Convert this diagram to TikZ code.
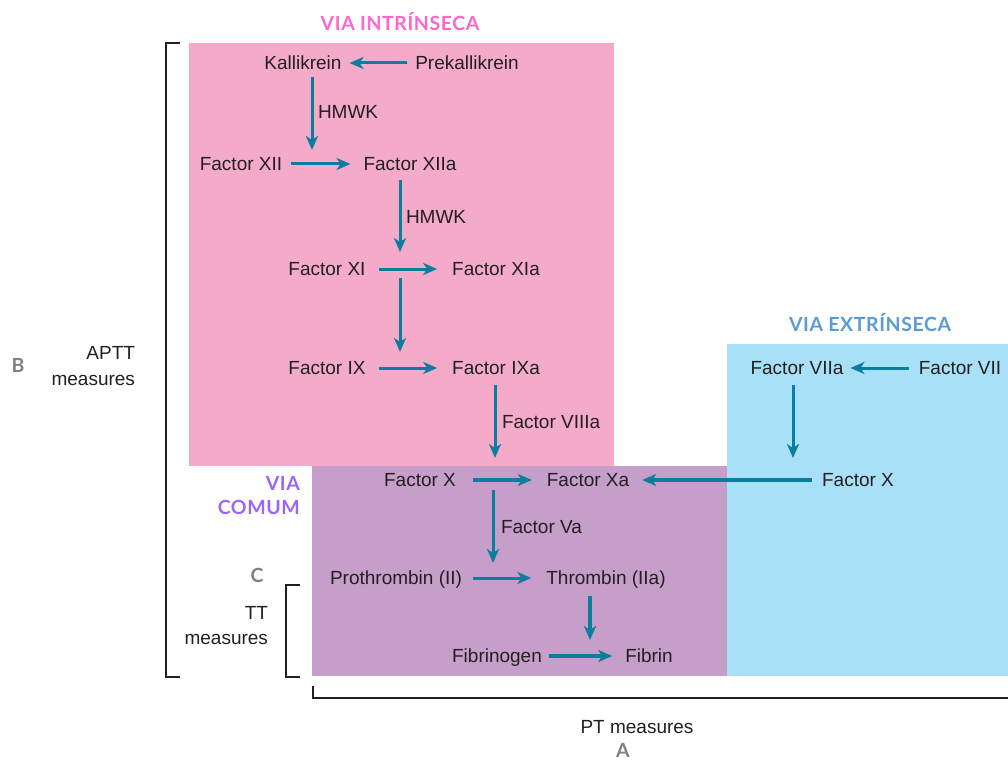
\documentclass[tikz,border=0pt]{standalone}
\usepackage{fontspec}
\setmainfont{Liberation Sans}
\newfontfamily\hdfont[LetterSpace=3]{Lato}
\usetikzlibrary{arrows.meta}
\definecolor{ink}{HTML}{231F20}
\definecolor{teal}{HTML}{0B7EA0}
\definecolor{pinkbg}{HTML}{F4ABC9}
\definecolor{purplebg}{HTML}{C59FC9}
\definecolor{bluebg}{HTML}{A8E0F8}
\definecolor{hpink}{HTML}{FF66CC}
\definecolor{hblue}{HTML}{5B9BD5}
\definecolor{hpurple}{HTML}{9966FF}
\definecolor{hgray}{HTML}{808080}
\tikzset{
  lbl/.style={font=\fontsize{19}{22}\selectfont, text=ink, inner sep=0pt, outer sep=0pt, text height=13.7pt, text depth=0pt},
  arr/.style={draw=teal, line width=3pt, -{Stealth[length=14pt,width=12pt,inset=4pt]}},
  thick arr/.style={arr, line width=4pt},
  hd/.style={font=\hdfont\bfseries\fontsize{19.5}{22}\selectfont, inner sep=0pt, text height=13.5pt, text depth=0pt},
  brk/.style={draw=ink, line width=2pt},
}
\begin{document}
\begin{tikzpicture}[x=1pt,y=-1pt]
\useasboundingbox (0,0) rectangle (1008,762);
% backgrounds
\fill[pinkbg] (189,43) rectangle (614,466);
\fill[purplebg] (312,466) rectangle (727,676);
\fill[bluebg] (727,344) rectangle (1008,676);
% headers
\node[hd, text=hpink] (hint) at (400,24) {VIA INTRÍNSECA};
\node[hd, text=hblue] (hext) at (870,325) {VIA EXTRÍNSECA};
\node[hd, text=hpurple, anchor=east] (hcom1) at (300,484) {VIA};
\node[hd, text=hpurple, anchor=east] (hcom2) at (300,508) {COMUM};
\node[hd, text=hgray] (lb) at (18,366) {B};
\node[hd, text=hgray] (lc) at (257,576) {C};
\node[hd, text=hgray] (la) at (623,751) {A};
% nodes
\node[lbl] (kal) at (303,63) {Kallikrein};
\node[lbl] (prek) at (467,63) {Prekallikrein};
\node[lbl] (f12) at (241,164) {Factor XII};
\node[lbl] (f12a) at (410,164) {Factor XIIa};
\node[lbl] (f11) at (327,269) {Factor XI};
\node[lbl] (f11a) at (496,269) {Factor XIa};
\node[lbl] (f9) at (327,368) {Factor IX};
\node[lbl] (f9a) at (496,368) {Factor IXa};
\node[lbl] (fx) at (420,480) {Factor X};
\node[lbl] (fxa) at (588,480) {Factor Xa};
\node[lbl] (pro) at (396,578) {Prothrombin (II)};
\node[lbl] (thr) at (606,578) {Thrombin (IIa)};
\node[lbl] (fbg) at (497,656) {Fibrinogen};
\node[lbl] (fbn) at (649,656) {Fibrin};
\node[lbl] (f7a) at (797,368) {Factor VIIa};
\node[lbl] (f7) at (960,368) {Factor VII};
\node[lbl] (fxe) at (858,480) {Factor X};
% edge labels
\node[lbl, anchor=west] (hm1) at (318,112) {HMWK};
\node[lbl, anchor=west] (hm2) at (406,217) {HMWK};
\node[lbl, anchor=west] (f8a) at (502,422) {Factor VIIIa};
\node[lbl, anchor=west] (f5a) at (501,527) {Factor Va};
% side labels
\node[lbl, anchor=east] (aptt) at (135,353) {APTT};
\node[lbl, anchor=east] (aptt2) at (135,379) {measures};
\node[lbl, anchor=east] (tt) at (268,613) {TT};
\node[lbl, anchor=east] (tt2) at (268,638) {measures};
\node[lbl] (pt) at (637,727) {PT measures};
% arrow end coordinates
\coordinate (c1) at (312,150);
\coordinate (c2) at (400,252);
\coordinate (s3) at (400,278);
\coordinate (c3) at (400,352);
\coordinate (c4) at (495,458);
\coordinate (c5) at (493,563);
\coordinate (c6) at (590,640);
\coordinate (c7) at (793,458);
% arrows
\draw[arr, shorten <=8pt, shorten >=8pt] (prek) -- (kal);
\draw[arr] ([xshift=9pt,yshift=-7pt]kal.south) -- (c1);
\draw[arr, shorten <=9pt, shorten >=13pt] (f12) -- (f12a);
\draw[arr] ([xshift=-10pt,yshift=-9pt]f12a.south) -- (c2);
\draw[arr, shorten <=13pt, shorten >=15pt] (f11) -- (f11a);
\draw[arr] (s3) -- (c3);
\draw[arr, shorten <=13pt, shorten >=15pt] (f9) -- (f9a);
\draw[arr] ([xshift=-1pt,yshift=-10pt]f9a.south) -- (c4);
\draw[thick arr, shorten <=17pt, shorten >=15pt] (fx) -- (fxa);
\draw[thick arr, shorten <=10pt, shorten >=13pt] (fxe) -- (fxa);
\draw[arr] ([xshift=73pt,yshift=-3pt]fx.south) -- (c5);
\draw[arr, shorten <=11pt, shorten >=15pt] (pro) -- (thr);
\draw[thick arr] ([xshift=-16pt,yshift=-11pt]thr.south) -- (c6);
\draw[thick arr, line width=4.5pt, shorten <=7pt, shorten >=13pt] (fbg) -- (fbn);
\draw[arr, shorten <=10pt, shorten >=7pt] (f7) -- (f7a);
\draw[arr] ([xshift=-4pt,yshift=-10pt]f7a.south) -- (c7);
% brackets
\draw[brk] (180,43) -- (166,43) -- (166,677) -- (180,677);
\draw[brk] (300,585) -- (286,585) -- (286,677) -- (300,677);
\draw[brk] (313,686) -- (313,698) -- (1008,698);
\end{tikzpicture}
\end{document}
